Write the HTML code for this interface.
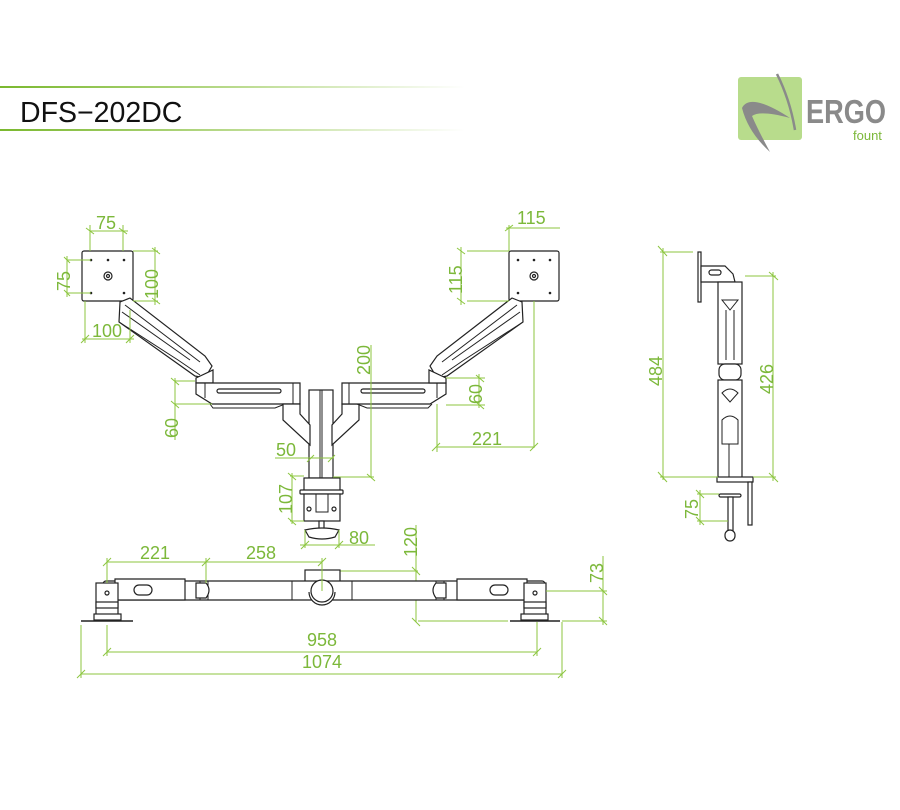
<!DOCTYPE html>
<html><head><meta charset="utf-8"><style>
html,body{margin:0;padding:0;background:#fff;}
svg{display:block;}
.g{stroke:#8cc63f;stroke-width:1;fill:none;}
.t{fill:#7cb83a;font-family:"Liberation Sans",sans-serif;font-size:18px;}
.k{stroke:#222;stroke-width:1.2;fill:#fff;}
.k2{stroke:#222;stroke-width:1;fill:none;}
</style></head><body>
<svg width="900" height="810" viewBox="0 0 900 810" xmlns="http://www.w3.org/2000/svg">
<defs>
<linearGradient id="lg" x1="0" x2="1" y1="0" y2="0">
<stop offset="0" stop-color="#7ab82e"/><stop offset="0.5" stop-color="#b9da8c"/><stop offset="1" stop-color="#fff"/>
</linearGradient>
</defs>
<rect x="0" y="86" width="465" height="2" fill="url(#lg)"/>
<rect x="0" y="129" width="465" height="2" fill="url(#lg)"/>
<text x="20" y="122" font-family="Liberation Sans,sans-serif" font-size="28.5" fill="#111">DFS−202DC</text>

<!-- logo -->
<rect x="738" y="77" width="64" height="63" rx="3" fill="#b8dc8c"/>
<path d="M742 108 Q750 92 790 118 Q760 110 752 116 Q758 130 770 152 Q748 132 742 108Z" fill="#8a8a8a"/>
<path d="M777 74 Q790 100 795 130" stroke="#8a8a8a" stroke-width="2.5" fill="none"/>
<text x="806" y="123" font-family="Liberation Sans,sans-serif" font-weight="bold" font-size="33" fill="#8a8a8a" textLength="80" lengthAdjust="spacingAndGlyphs">ERGO</text>
<text x="853" y="140" font-family="Liberation Sans,sans-serif" font-size="13" fill="#7cb83a">fount</text>

<!-- FRONT VIEW -->
<rect class="k" x="82" y="251" width="51" height="50" rx="2"/>
<rect class="k" x="509" y="251" width="50" height="50" rx="2"/>
<g fill="#222">
<circle cx="91" cy="260" r="1.3"/><circle cx="108" cy="260" r="1.3"/><circle cx="124" cy="260" r="1.3"/>
<circle cx="91" cy="293" r="1.3"/><circle cx="124" cy="293" r="1.3"/>
<circle cx="518" cy="260" r="1.3"/><circle cx="534" cy="260" r="1.3"/><circle cx="550" cy="260" r="1.3"/>
<circle cx="518" cy="293" r="1.3"/><circle cx="550" cy="293" r="1.3"/>
</g>
<circle class="k" cx="108" cy="276" r="4"/><circle class="k" cx="108" cy="276" r="1.5"/>
<circle class="k" cx="534" cy="276" r="4"/><circle class="k" cx="534" cy="276" r="1.5"/>
<!-- left diagonal arm -->
<path class="k" d="M120 302 L130 298 L205 356 L212 366 L205 378 L195 376 L119 322 Z"/>
<path class="k2" d="M125 305 L200 362 M122 312 L190 360 M119 322 L178 360 L200 375"/>
<path class="k" d="M196 378 L213 370 L213 383 L196 383Z"/>
<!-- left horizontal -->
<path class="k" d="M196 383 L300 383 L300 404 L212 404 L196 394Z"/>
<path class="k2" d="M205 383 L205 398 M293 383 L293 404 M210 404 L213 408 L275 408 L285 404"/>
<rect class="k" x="217" y="389" width="64" height="4" rx="2"/>
<!-- center post -->
<rect class="k" x="309" y="390" width="24" height="88"/>
<line class="k2" x1="320" y1="390" x2="320" y2="478"/><line class="k2" x1="322" y1="390" x2="322" y2="478"/>
<path class="k" d="M283 404 L300 404 L300 414 L310 425 L310 445 L283 420Z"/>
<path class="k" d="M359 404 L342 404 L342 414 L332 425 L332 445 L359 420Z"/>
<!-- right horizontal -->
<path class="k" d="M342 383 L446 383 L446 394 L430 404 L342 404Z"/>
<path class="k2" d="M349 383 L349 404 M437 383 L437 398 M357 404 L367 408 L428 408 L432 404"/>
<rect class="k" x="361" y="389" width="64" height="4" rx="2"/>
<!-- right diagonal -->
<path class="k" d="M522 302 L512 298 L437 356 L430 366 L437 378 L447 376 L523 322 Z"/>
<path class="k2" d="M517 305 L442 362 M520 312 L452 360 M523 322 L464 360 L442 375"/>
<path class="k" d="M446 378 L429 370 L429 383 L446 383Z"/>
<!-- clamp -->
<rect class="k" x="304" y="478" width="36" height="14"/>
<rect class="k" x="300" y="490" width="43" height="4" rx="1"/>
<rect class="k" x="304" y="494" width="36" height="27"/>
<path class="k2" d="M316 494 L316 512 L328 512 L328 494"/>
<circle class="k" cx="309" cy="509" r="2"/><circle class="k" cx="334" cy="509" r="2"/>
<rect class="k" x="319" y="521" width="5" height="8"/>
<path class="k" d="M305 530 Q322 526 339 530 L335 537 Q322 541 309 537Z"/>

<!-- front view dimensions -->
<g class="g">
<line x1="90" y1="231" x2="128" y2="231"/><line x1="90" y1="225" x2="90" y2="251"/><line x1="123" y1="225" x2="123" y2="251"/>
<line x1="86" y1="228" x2="94" y2="234"/><line x1="119" y1="228" x2="127" y2="234"/>
<line x1="67" y1="260" x2="91" y2="260"/><line x1="67" y1="293" x2="91" y2="293"/><line x1="67" y1="256" x2="67" y2="297"/>
<line x1="64" y1="257" x2="70" y2="263"/><line x1="64" y1="290" x2="70" y2="296"/>
<line x1="133" y1="251" x2="158" y2="251"/><line x1="133" y1="301" x2="158" y2="301"/><line x1="155" y1="247" x2="155" y2="305"/>
<line x1="152" y1="248" x2="160" y2="254"/><line x1="152" y1="298" x2="160" y2="304"/>
<line x1="85" y1="301" x2="85" y2="343"/><line x1="130" y1="310" x2="130" y2="343"/><line x1="82" y1="339" x2="134" y2="339"/>
<line x1="81" y1="343" x2="89" y2="335"/><line x1="126" y1="343" x2="134" y2="335"/>
<line x1="509" y1="251" x2="509" y2="225"/><line x1="506" y1="228" x2="560" y2="228"/><line x1="505" y1="231" x2="513" y2="225"/>
<line x1="467" y1="251" x2="509" y2="251"/><line x1="467" y1="301" x2="509" y2="301"/><line x1="461" y1="247" x2="461" y2="305"/>
<line x1="457" y1="248" x2="465" y2="254"/><line x1="457" y1="298" x2="465" y2="304"/>
<line x1="534" y1="301" x2="534" y2="448"/>
<line x1="437" y1="404" x2="437" y2="452"/><line x1="437" y1="447" x2="534" y2="447"/>
<line x1="432" y1="451" x2="440" y2="443"/><line x1="530" y1="451" x2="538" y2="443"/>
<line x1="446" y1="378" x2="485" y2="378"/><line x1="446" y1="405" x2="485" y2="405"/><line x1="479" y1="374" x2="479" y2="408"/>
<line x1="476" y1="375" x2="484" y2="382"/><line x1="476" y1="402" x2="484" y2="409"/>
<line x1="175" y1="381" x2="195" y2="381"/><line x1="175" y1="404" x2="212" y2="404"/><line x1="175" y1="378" x2="175" y2="440"/>
<line x1="171" y1="378" x2="179" y2="385"/><line x1="171" y1="401" x2="179" y2="408"/>
<line x1="371" y1="345" x2="371" y2="478"/><line x1="333" y1="477" x2="374" y2="477"/><line x1="367" y1="474" x2="375" y2="481"/>
<line x1="275" y1="458" x2="334" y2="458"/><line x1="307" y1="462" x2="314" y2="455"/><line x1="328" y1="462" x2="335" y2="455"/>
<line x1="290" y1="476" x2="304" y2="476"/><line x1="290" y1="521" x2="304" y2="521"/><line x1="292" y1="473" x2="292" y2="524"/>
<line x1="288" y1="473" x2="296" y2="480"/><line x1="288" y1="518" x2="296" y2="525"/>
<line x1="305" y1="530" x2="305" y2="548"/><line x1="339" y1="530" x2="339" y2="548"/><line x1="300" y1="545" x2="375" y2="545"/>
<line x1="301" y1="549" x2="309" y2="541"/><line x1="335" y1="549" x2="343" y2="541"/>
<line x1="416" y1="525" x2="416" y2="622"/><line x1="340" y1="571" x2="418" y2="571"/><line x1="412" y1="567" x2="420" y2="575"/>
<line x1="412" y1="618" x2="420" y2="626"/><line x1="418" y1="621" x2="508" y2="621"/>
</g>
<g class="t">
<text x="96" y="229">75</text>
<text transform="translate(70 291) rotate(-90)">75</text>
<text transform="translate(158 299) rotate(-90)">100</text>
<text x="92" y="337">100</text>
<text x="517" y="224">115</text>
<text transform="translate(462 294) rotate(-90)">115</text>
<text x="472" y="445">221</text>
<text transform="translate(482 404) rotate(-90)">60</text>
<text transform="translate(178 438) rotate(-90)">60</text>
<text transform="translate(370 375) rotate(-90)">200</text>
<text x="276" y="456">50</text>
<text transform="translate(292 514) rotate(-90)">107</text>
<text x="349" y="544">80</text>
<text transform="translate(417 557) rotate(-90)">120</text>
</g>

<!-- TOP VIEW -->
<rect class="k" x="305" y="570" width="35" height="12"/>
<rect class="k" x="103" y="581" width="442" height="19" rx="3"/>
<path class="k2" d="M200 581 L200 600 M208 581 L208 600 M292 581 L292 600 M352 581 L352 600 M436 581 L436 600 M444 581 L444 600"/>
<path class="k" d="M115 579 L185 579 L185 600 L115 600Z"/>
<rect class="k" x="134" y="585" width="18" height="10" rx="5"/>
<path class="k" d="M527 579 L457 579 L457 600 L527 600Z"/>
<rect class="k" x="490" y="585" width="18" height="10" rx="5"/>
<path class="k" d="M196 583 L206 583 Q212 590 206 598 L196 598Z"/>
<path class="k" d="M446 583 L436 583 Q430 590 436 598 L446 598Z"/>
<path class="k" d="M309 592 A13 13 0 0 0 335 592" />
<circle class="k" cx="322" cy="591" r="11"/>
<rect class="k" x="96" y="583" width="22" height="32"/>
<rect class="k" x="96" y="602" width="22" height="6" fill="#222"/>
<circle class="k" cx="107" cy="593" r="2"/>
<rect class="k" x="94" y="614" width="27" height="6"/>
<line x1="81" y1="621" x2="133" y2="621" stroke="#222" stroke-width="1.5"/>
<rect class="k" x="524" y="583" width="22" height="32"/>
<rect class="k" x="524" y="602" width="22" height="6" fill="#222"/>
<circle class="k" cx="535" cy="593" r="2"/>
<rect class="k" x="521" y="614" width="27" height="6"/>
<line x1="510" y1="621" x2="560" y2="621" stroke="#222" stroke-width="1.5"/>
<g class="g">
<line x1="107" y1="562" x2="322" y2="562"/><line x1="107" y1="558" x2="107" y2="583"/><line x1="206" y1="558" x2="206" y2="583"/><line x1="322" y1="558" x2="322" y2="591"/>
<line x1="103" y1="566" x2="111" y2="558"/><line x1="202" y1="566" x2="210" y2="558"/><line x1="318" y1="566" x2="326" y2="558"/>
<line x1="107" y1="625" x2="107" y2="656"/><line x1="537" y1="622" x2="537" y2="656"/><line x1="107" y1="652" x2="537" y2="652"/>
<line x1="103" y1="656" x2="111" y2="648"/><line x1="533" y1="656" x2="541" y2="648"/>
<line x1="81" y1="625" x2="81" y2="678"/><line x1="562" y1="622" x2="562" y2="678"/><line x1="81" y1="674" x2="562" y2="674"/>
<line x1="77" y1="678" x2="85" y2="670"/><line x1="558" y1="678" x2="566" y2="670"/>
<line x1="546" y1="591" x2="607" y2="591"/><line x1="562" y1="621" x2="607" y2="621"/><line x1="603" y1="556" x2="603" y2="625"/>
<line x1="599" y1="587" x2="607" y2="595"/><line x1="599" y1="617" x2="607" y2="625"/>
</g>
<g class="t">
<text x="140" y="559">221</text>
<text x="246" y="559">258</text>
<text x="322" y="646" text-anchor="middle">958</text>
<text x="322" y="668" text-anchor="middle">1074</text>
<text transform="translate(603 583) rotate(-90)">73</text>
</g>

<!-- SIDE VIEW -->
<rect class="k" x="698" y="252" width="3" height="50"/>
<path class="k" d="M701 266 L725 266 L733 274 L735 282 L718 282 L701 282Z"/>
<rect class="k" x="709" y="270" width="12" height="5" rx="2.5"/>
<rect class="k" x="718" y="282" width="24" height="82"/>
<path class="k2" d="M722 300 L738 300 L730 310Z M726 310 L726 360 M734 310 L734 360"/>
<rect class="k" x="719" y="364" width="22" height="16" rx="6"/>
<rect class="k" x="718" y="380" width="24" height="100"/>
<path class="k2" d="M722 393 Q730 385 738 393 L730 402Z M722 420 Q730 412 738 420 L738 444 L722 444Z M729 444 L729 477"/>
<rect class="k" x="717" y="477" width="36" height="5"/>
<rect class="k" x="748" y="482" width="4" height="43"/>
<rect class="k" x="719" y="494" width="22" height="3" rx="1.5"/>
<rect class="k" x="728" y="497" width="5" height="34"/>
<rect class="k" x="725" y="530" width="10" height="11" rx="5"/>
<g class="g">
<line x1="660" y1="252" x2="693" y2="252"/><line x1="660" y1="477" x2="718" y2="477"/><line x1="663" y1="248" x2="663" y2="480"/>
<line x1="658" y1="246" x2="667" y2="256"/><line x1="658" y1="472" x2="667" y2="482"/>
<line x1="745" y1="276" x2="776" y2="276"/><line x1="753" y1="477" x2="776" y2="477"/><line x1="773" y1="272" x2="773" y2="481"/>
<line x1="769" y1="272" x2="778" y2="280"/><line x1="769" y1="473" x2="778" y2="482"/>
<line x1="697" y1="494" x2="719" y2="494"/><line x1="697" y1="521" x2="728" y2="521"/><line x1="700" y1="490" x2="700" y2="525"/>
<line x1="696" y1="490" x2="704" y2="498"/><line x1="696" y1="517" x2="704" y2="525"/>
</g>
<g class="t">
<text transform="translate(662 386) rotate(-90)">484</text>
<text transform="translate(773 394) rotate(-90)">426</text>
<text transform="translate(698 519) rotate(-90)">75</text>
</g>
</svg>
</body></html>
